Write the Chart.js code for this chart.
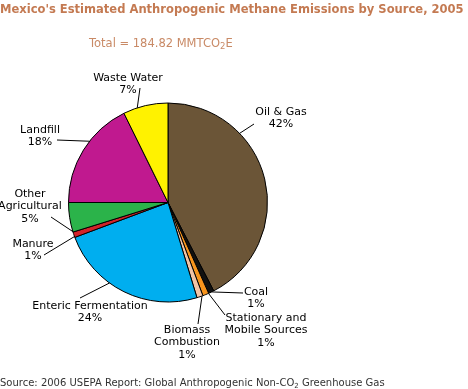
<!DOCTYPE html>
<html>
<head>
<meta charset="utf-8">
<script src="https://cdn.jsdelivr.net/npm/chart.js@4.4.1/dist/chart.umd.min.js"></script>
<style>
  html, body { margin: 0; padding: 0; background: #fff; }
  #wrap { width: 468px; height: 389px; position: relative; }
</style>
</head>
<body>
<div id="wrap"><canvas id="pie"></canvas></div>
<script>
// data (percent of 184.82 MMTCO2E)
let sources = ["Oil & Gas", "Coal", "Stationary and Mobile Sources", "Biomass Combustion",
  "Enteric Fermentation", "Manure", "Other Agricultural", "Landfill", "Waste Water"];
let shares = [42.4, 0.9, 1.0, 1.0, 24.0, 0.9, 4.8, 17.7, 7.3];
let shareLabels = ["42%", "1%", "1%", "1%", "24%", "1%", "5%", "18%", "7%"];
let sliceColors = ["#6b5537", "#111111", "#f7941d", "#f2c4a6", "#00aeef", "#d2232a", "#2bb34a", "#c0198f", "#fff200"];

// label placement: text lines, text centre, leader start angle (deg from top), leader end
let labelSpots = [
  { lines: ["Oil & Gas"], x: 281, y: 112, ang: 46, ex: 254, ey: 124 },
  { lines: ["Coal"], x: 256, y: 292, ang: 154, ex: 243, ey: 293 },
  { lines: ["Stationary and", "Mobile Sources"], x: 266, y: 318, ang: 156, ex: 225, ey: 315 },
  { lines: ["Biomass", "Combustion"], x: 187, y: 330, ang: 160, ex: 198, ey: 324 },
  { lines: ["Enteric Fermentation"], x: 90, y: 306, ang: 216, ex: 80, ey: 298 },
  { lines: ["Manure"], x: 33, y: 244, ang: 250, ex: 44, ey: 255 },
  { lines: ["Other", "Agricultural"], x: 30, y: 194, ang: 253, ex: 51, ey: 217 },
  { lines: ["Landfill"], x: 40, y: 130, ang: 308, ex: 57, ey: 140 },
  { lines: ["Waste Water"], x: 128, y: 78, ang: 342, ex: 140, ey: 88 },
];

const FONT = '"DejaVu Sans", Verdana, sans-serif';
const TITLE = "Mexico's Estimated Anthropogenic Methane Emissions by Source, 2005";

const textPlugin = {
  id: "textPlugin",
  afterDraw(chart) {
    const ctx = chart.ctx;
    const arc = chart.getDatasetMeta(0).data[0];
    const cx = arc.x, cy = arc.y, r = arc.outerRadius;
    ctx.save();

    // title, squeezed to the width it takes in the original
    ctx.fillStyle = "#c47a52";
    ctx.font = "bold 12px " + FONT;
    let tw = ctx.measureText(TITLE).width;
    let fs = Math.min(13, 12 * 464 / tw);
    ctx.font = "bold " + fs.toFixed(2) + "px " + FONT;
    ctx.textAlign = "left";
    ctx.textBaseline = "middle";
    ctx.fillText(TITLE, 0, 10);

    // total
    ctx.fillStyle = "#c98a66";
    ctx.font = "11.5px " + FONT;
    let tx = 89;
    let t1 = "Total = 184.82 MMTCO";
    ctx.fillText(t1, tx, 44);
    tx += ctx.measureText(t1).width;
    ctx.font = "8.5px " + FONT;
    ctx.fillText("2", tx, 47);
    tx += ctx.measureText("2").width;
    ctx.font = "11.5px " + FONT;
    ctx.fillText("E", tx, 44);

    // leader lines + labels
    ctx.strokeStyle = "#000";
    ctx.lineWidth = 1;
    ctx.fillStyle = "#000";
    ctx.textAlign = "center";
    ctx.font = "11px " + FONT;
    labelSpots.forEach((s, i) => {
      const a = (s.ang - 90) * Math.PI / 180;
      ctx.beginPath();
      ctx.moveTo(cx + Math.cos(a) * r, cy + Math.sin(a) * r);
      ctx.lineTo(s.ex, s.ey);
      ctx.stroke();
      const lines = s.lines.concat([shareLabels[i]]);
      lines.forEach((ln, k) => ctx.fillText(ln, s.x, s.y + k * 12.5));
    });

    // source
    ctx.textAlign = "left";
    ctx.fillStyle = "#333";
    ctx.font = "10px " + FONT;
    let sx = 0;
    let s1 = "Source: 2006 USEPA Report: Global Anthropogenic Non-CO";
    ctx.fillText(s1, sx, 383);
    sx += ctx.measureText(s1).width;
    ctx.font = "7px " + FONT;
    ctx.fillText("2", sx, 386);
    sx += ctx.measureText("2").width;
    ctx.font = "10px " + FONT;
    ctx.fillText(" Greenhouse Gas", sx, 383);
    ctx.restore();
  },
};

new Chart(document.getElementById("pie"), {
  type: "pie",
  data: {
    labels: sources,
    datasets: [{
      data: shares,
      backgroundColor: sliceColors,
      borderColor: "#000",
      borderWidth: 1,
    }],
  },
  options: {
    responsive: true,
    maintainAspectRatio: false,
    animation: false,
    layout: { padding: { left: 68, right: 200, top: 102, bottom: 86 } },
    plugins: {
      legend: { display: false },
      tooltip: { enabled: false },
    },
  },
  plugins: [textPlugin],
});
</script>
</body>
</html>
